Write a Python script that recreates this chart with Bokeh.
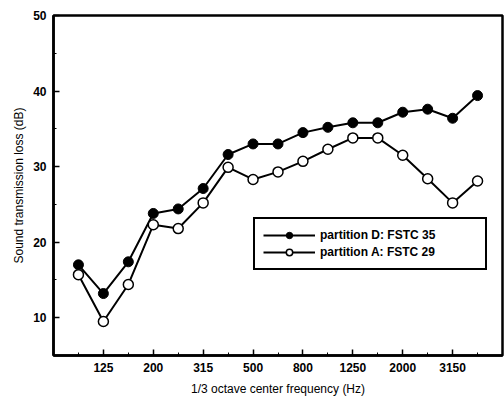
from bokeh.plotting import figure
from bokeh.models import Range1d, FixedTicker, Legend, LegendItem
from bokeh.embed import file_html
from bokeh.resources import INLINE

bands = ["100", "125", "160", "200", "250", "315", "400", "500", "630", "800",
         "1000", "1250", "1600", "2000", "2500", "3150", "4000"]
tick_labels = ["125", "200", "315", "500", "800", "1250", "2000", "3150"]
partition_d = [17.0, 13.2, 17.4, 23.8, 24.4, 27.1, 31.6, 33.0, 33.0, 34.5,
               35.2, 35.8, 35.8, 37.2, 37.6, 36.4, 39.4]
partition_a = [15.7, 9.5, 14.4, 22.3, 21.8, 25.2, 29.9, 28.3, 29.3, 30.7,
               32.3, 33.8, 33.8, 31.5, 28.4, 25.2, 28.1]
y_ticks = [10, 20, 30, 40, 50]
y_minor = [15, 25, 35, 45]
label_d = "partition D: FSTC 35"
label_a = "partition A: FSTC 29"

xs = list(range(len(bands)))
major_idx = [bands.index(t) for t in tick_labels]
minor_idx = [i for i in range(len(bands)) if i not in major_idx]

FONT = "Liberation Sans"

p = figure(width=504, height=400, output_backend="svg", toolbar_location=None,
           x_range=Range1d(-1, len(bands)), y_range=Range1d(5, 50),
           min_border_left=53, min_border_right=2, min_border_top=15, min_border_bottom=45)
p.xgrid.visible = False
p.ygrid.visible = False
p.outline_line_color = "black"
p.outline_line_alpha = 1
p.outline_line_width = 2.5
p.background_fill_color = "white"
p.border_fill_color = "white"

ld = p.line(xs, partition_d, line_color="black", line_width=2)
sd = p.scatter(xs, partition_d, size=10, fill_color="black", line_color="black", line_width=1)
la = p.line(xs, partition_a, line_color="black", line_width=2)
sa = p.scatter(xs, partition_a, size=10, fill_color="white", line_color="black", line_width=1.5)

p.xaxis.ticker = FixedTicker(ticks=major_idx, minor_ticks=minor_idx)
p.xaxis.major_label_overrides = {i: t for i, t in zip(major_idx, tick_labels)}
p.yaxis.ticker = FixedTicker(ticks=y_ticks, minor_ticks=y_minor)

for ax in (p.xaxis[0], p.yaxis[0]):
    ax.axis_line_width = 2.5
    ax.axis_line_color = "black"
    ax.major_tick_in = 6
    ax.major_tick_out = 0
    ax.minor_tick_in = 3
    ax.minor_tick_out = 0
    ax.major_tick_line_width = 1.5
    ax.minor_tick_line_width = 1
    ax.major_label_text_font = FONT
    ax.major_label_text_font_style = "bold"
    ax.major_label_text_font_size = "12px"
    ax.major_label_text_color = "black"
    ax.axis_label_text_font = FONT
    ax.axis_label_text_font_style = "normal"
    ax.axis_label_text_font_size = "12px"
    ax.axis_label_text_color = "black"

p.xaxis.axis_label = "1/3 octave center frequency (Hz)"
p.yaxis.axis_label = "Sound transmission loss (dB)"
p.xaxis.major_label_standoff = 7
p.xaxis.axis_label_standoff = 7
p.yaxis.major_label_standoff = 7
p.yaxis.axis_label_standoff = 4

legend = Legend(items=[LegendItem(label=label_d, renderers=[ld, sd]),
                       LegendItem(label=label_a, renderers=[la, sa])],
                location=(200, 85))
legend.border_line_color = "black"
legend.border_line_alpha = 1
legend.border_line_width = 2
legend.background_fill_color = "white"
legend.background_fill_alpha = 1
legend.padding = 8
legend.margin = 0
legend.spacing = 1
legend.glyph_width = 52
legend.glyph_height = 16
legend.label_height = 16
legend.label_width = 157
legend.label_standoff = 5
legend.label_text_font = FONT
legend.label_text_font_style = "bold"
legend.label_text_font_size = "12px"
legend.label_text_color = "black"
p.add_layout(legend)

open("out.html", "w").write(file_html(p, INLINE))
